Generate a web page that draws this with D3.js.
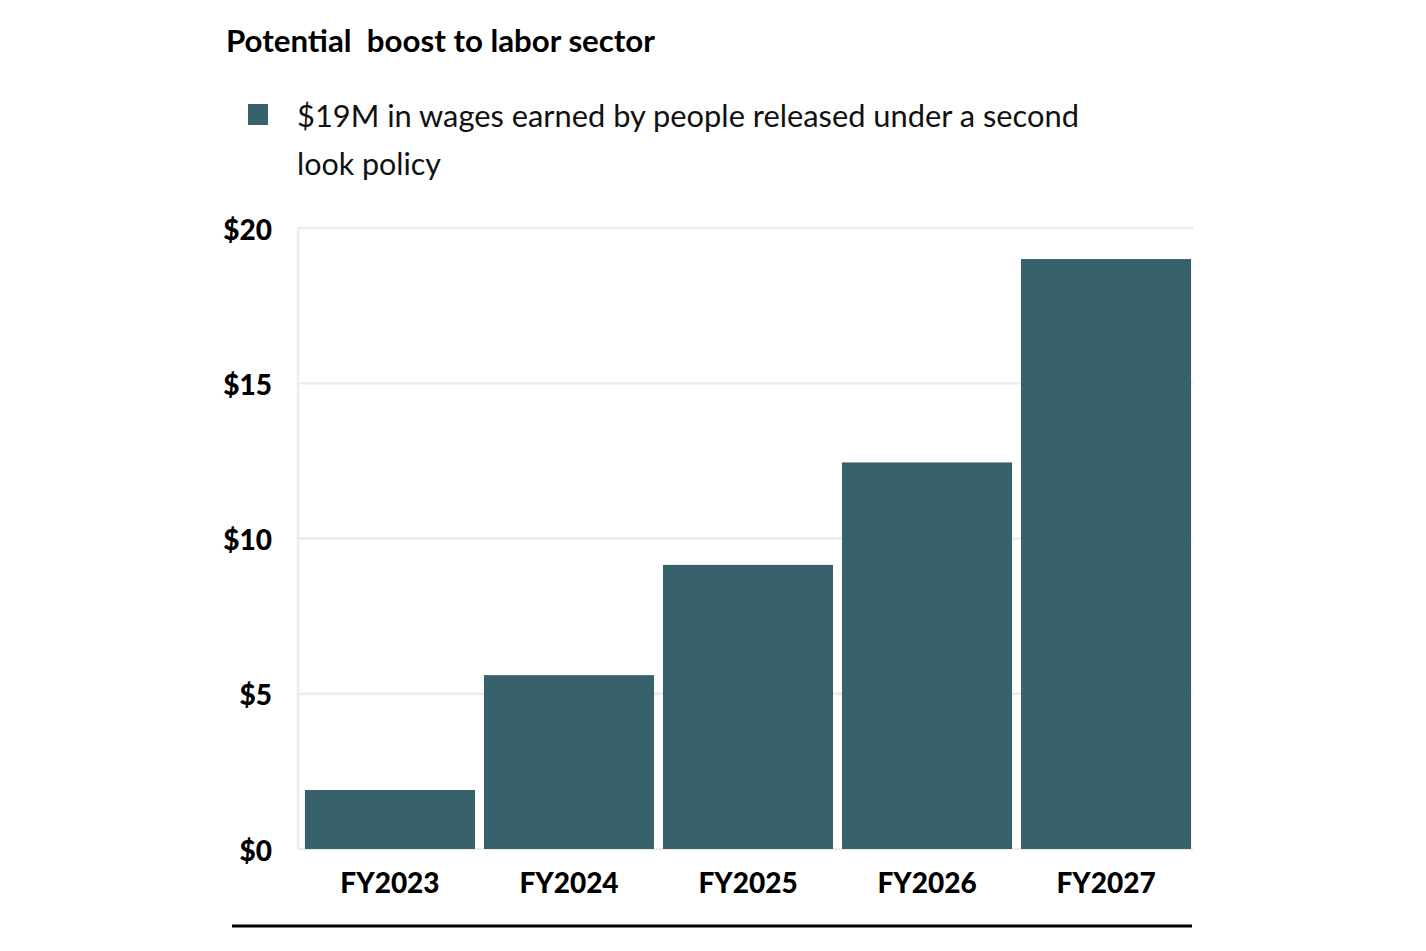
<!DOCTYPE html>
<html>
<head>
<meta charset="utf-8">
<script src="https://cdn.jsdelivr.net/npm/d3@7"></script>
<style>
  body { margin: 0; background: #fff; }
  text { font-family: "Lato", "Inter", sans-serif; }
</style>
</head>
<body>
<div id="chart"></div>
<script>
// data
const years = ["FY2023", "FY2024", "FY2025", "FY2026", "FY2027"];
const wages = [1.9, 5.6, 9.15, 12.45, 19.0];
const yTicks = [0, 5, 10, 15, 20];
const titleText = "Potential\u00a0 boost to labor sector";
const legendLines = ["$19M in wages earned by people released under a second", "look policy"];

const W = 1426, H = 951;
const barColor = "#38626b";

const svg = d3.select("#chart")
    .append("svg")
    .attr("width", W)
    .attr("height", H);

const x = d3.scaleBand()
    .domain(years)
    .range([296, 1200])
    .paddingInner(0.05)
    .paddingOuter(0.05);

const y = d3.scaleLinear()
    .domain([0, 20])
    .range([849, 228]);

// title
svg.append("text")
    .attr("x", 226)
    .attr("y", 52)
    .attr("font-size", 30)
    .attr("font-weight", 700)
    .attr("fill", "#000")
    .attr("textLength", 429)
    .attr("lengthAdjust", "spacingAndGlyphs")
    .text(titleText);

// legend
svg.append("rect")
    .attr("x", 248)
    .attr("y", 104)
    .attr("width", 20)
    .attr("height", 21)
    .attr("fill", barColor);

const legendWidths = [782, 144];
svg.selectAll(".legend-line")
    .data(legendLines)
    .join("text")
    .attr("class", "legend-line")
    .attr("x", 297)
    .attr("y", (d, i) => 127 + i * 48)
    .attr("font-size", 30)
    .attr("fill", "#111")
    .attr("textLength", (d, i) => legendWidths[i])
    .attr("lengthAdjust", "spacingAndGlyphs")
    .text(d => d);

// gridlines
svg.append("g")
    .selectAll("line")
    .data(yTicks)
    .join("line")
    .attr("x1", 298)
    .attr("x2", 1193)
    .attr("y1", d => y(d))
    .attr("y2", d => y(d))
    .attr("stroke", "#ececec")
    .attr("stroke-width", 2.5);

svg.append("line")
    .attr("x1", 298)
    .attr("x2", 298)
    .attr("y1", y(20))
    .attr("y2", y(0))
    .attr("stroke", "#ececec")
    .attr("stroke-width", 2.5);

// bars
svg.selectAll(".bar")
    .data(years)
    .join("rect")
    .attr("class", "bar")
    .attr("x", d => x(d))
    .attr("width", x.bandwidth())
    .attr("y", (d, i) => y(wages[i]))
    .attr("height", (d, i) => y(0) - y(wages[i]))
    .attr("fill", barColor);

// y axis labels
const yAxis = svg.append("g")
    .attr("transform", "translate(272,0)")
    .call(d3.axisLeft(y).tickValues(yTicks).tickSize(0).tickPadding(0).tickFormat(d => "$" + d));
yAxis.select(".domain").remove();
yAxis.selectAll("text")
    .attr("font-size", 28)
    .attr("font-weight", 900)
    .attr("fill", "#000")
    .attr("font-family", "Lato, sans-serif")
    .attr("dy", "0.4em");

// x axis labels
const xAxis = svg.append("g")
    .attr("transform", "translate(0,866)")
    .call(d3.axisBottom(x).tickSize(0).tickPadding(0));
xAxis.select(".domain").remove();
xAxis.selectAll("text")
    .attr("font-size", 28)
    .attr("font-weight", 900)
    .attr("fill", "#000")
    .attr("font-family", "Lato, sans-serif")
    .attr("dy", "0.95em");

// bottom rule
svg.append("line")
    .attr("x1", 232)
    .attr("x2", 1192)
    .attr("y1", 926)
    .attr("y2", 926)
    .attr("stroke", "#000")
    .attr("stroke-width", 3);
</script>
</body>
</html>
